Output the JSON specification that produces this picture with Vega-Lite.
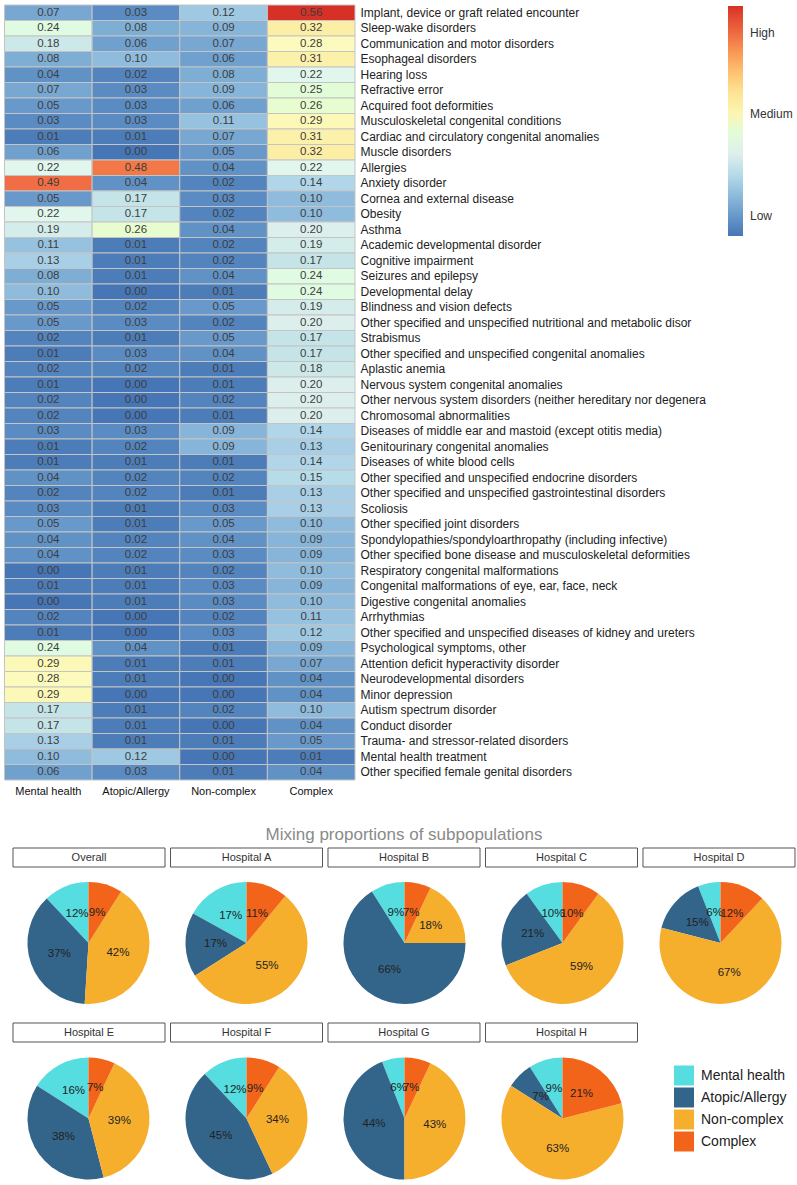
{
  "$schema": "https://vega.github.io/schema/vega-lite/v6.json",
  "padding": {"left": 3.5, "top": 4, "right": 0, "bottom": 0},
  "config": {"font": "Liberation Sans", "view": {"stroke": null},
    "header": {"labels": false, "title": null, "labelPadding": 0, "titlePadding": 0},
    "headerFacet": {"labels": false, "title": null, "labelPadding": 0, "titlePadding": 0}},
  "datasets": {
    "heat": [
      {"d": "Implant, device or graft related encounter", "Mental health": 0.07, "Atopic/Allergy": 0.03, "Non-complex": 0.12, "Complex": 0.56},
      {"d": "Sleep-wake disorders", "Mental health": 0.24, "Atopic/Allergy": 0.08, "Non-complex": 0.09, "Complex": 0.32},
      {"d": "Communication and motor disorders", "Mental health": 0.18, "Atopic/Allergy": 0.06, "Non-complex": 0.07, "Complex": 0.28},
      {"d": "Esophageal disorders", "Mental health": 0.08, "Atopic/Allergy": 0.10, "Non-complex": 0.06, "Complex": 0.31},
      {"d": "Hearing loss", "Mental health": 0.04, "Atopic/Allergy": 0.02, "Non-complex": 0.08, "Complex": 0.22},
      {"d": "Refractive error", "Mental health": 0.07, "Atopic/Allergy": 0.03, "Non-complex": 0.09, "Complex": 0.25},
      {"d": "Acquired foot deformities", "Mental health": 0.05, "Atopic/Allergy": 0.03, "Non-complex": 0.06, "Complex": 0.26},
      {"d": "Musculoskeletal congenital conditions", "Mental health": 0.03, "Atopic/Allergy": 0.03, "Non-complex": 0.11, "Complex": 0.29},
      {"d": "Cardiac and circulatory congenital anomalies", "Mental health": 0.01, "Atopic/Allergy": 0.01, "Non-complex": 0.07, "Complex": 0.31},
      {"d": "Muscle disorders", "Mental health": 0.06, "Atopic/Allergy": 0.00, "Non-complex": 0.05, "Complex": 0.32},
      {"d": "Allergies", "Mental health": 0.22, "Atopic/Allergy": 0.48, "Non-complex": 0.04, "Complex": 0.22},
      {"d": "Anxiety disorder", "Mental health": 0.49, "Atopic/Allergy": 0.04, "Non-complex": 0.02, "Complex": 0.14},
      {"d": "Cornea and external disease", "Mental health": 0.05, "Atopic/Allergy": 0.17, "Non-complex": 0.03, "Complex": 0.10},
      {"d": "Obesity", "Mental health": 0.22, "Atopic/Allergy": 0.17, "Non-complex": 0.02, "Complex": 0.10},
      {"d": "Asthma", "Mental health": 0.19, "Atopic/Allergy": 0.26, "Non-complex": 0.04, "Complex": 0.20},
      {"d": "Academic developmental disorder", "Mental health": 0.11, "Atopic/Allergy": 0.01, "Non-complex": 0.02, "Complex": 0.19},
      {"d": "Cognitive impairment", "Mental health": 0.13, "Atopic/Allergy": 0.01, "Non-complex": 0.02, "Complex": 0.17},
      {"d": "Seizures and epilepsy", "Mental health": 0.08, "Atopic/Allergy": 0.01, "Non-complex": 0.04, "Complex": 0.24},
      {"d": "Developmental delay", "Mental health": 0.10, "Atopic/Allergy": 0.00, "Non-complex": 0.01, "Complex": 0.24},
      {"d": "Blindness and vision defects", "Mental health": 0.05, "Atopic/Allergy": 0.02, "Non-complex": 0.05, "Complex": 0.19},
      {"d": "Other specified and unspecified nutritional and metabolic disor", "Mental health": 0.05, "Atopic/Allergy": 0.03, "Non-complex": 0.02, "Complex": 0.20},
      {"d": "Strabismus", "Mental health": 0.02, "Atopic/Allergy": 0.01, "Non-complex": 0.05, "Complex": 0.17},
      {"d": "Other specified and unspecified congenital anomalies", "Mental health": 0.01, "Atopic/Allergy": 0.03, "Non-complex": 0.04, "Complex": 0.17},
      {"d": "Aplastic anemia", "Mental health": 0.02, "Atopic/Allergy": 0.02, "Non-complex": 0.01, "Complex": 0.18},
      {"d": "Nervous system congenital anomalies", "Mental health": 0.01, "Atopic/Allergy": 0.00, "Non-complex": 0.01, "Complex": 0.20},
      {"d": "Other nervous system disorders (neither hereditary nor degenera", "Mental health": 0.02, "Atopic/Allergy": 0.00, "Non-complex": 0.02, "Complex": 0.20},
      {"d": "Chromosomal abnormalities", "Mental health": 0.02, "Atopic/Allergy": 0.00, "Non-complex": 0.01, "Complex": 0.20},
      {"d": "Diseases of middle ear and mastoid (except otitis media)", "Mental health": 0.03, "Atopic/Allergy": 0.03, "Non-complex": 0.09, "Complex": 0.14},
      {"d": "Genitourinary congenital anomalies", "Mental health": 0.01, "Atopic/Allergy": 0.02, "Non-complex": 0.09, "Complex": 0.13},
      {"d": "Diseases of white blood cells", "Mental health": 0.01, "Atopic/Allergy": 0.01, "Non-complex": 0.01, "Complex": 0.14},
      {"d": "Other specified and unspecified endocrine disorders", "Mental health": 0.04, "Atopic/Allergy": 0.02, "Non-complex": 0.02, "Complex": 0.15},
      {"d": "Other specified and unspecified gastrointestinal disorders", "Mental health": 0.02, "Atopic/Allergy": 0.02, "Non-complex": 0.01, "Complex": 0.13},
      {"d": "Scoliosis", "Mental health": 0.03, "Atopic/Allergy": 0.01, "Non-complex": 0.03, "Complex": 0.13},
      {"d": "Other specified joint disorders", "Mental health": 0.05, "Atopic/Allergy": 0.01, "Non-complex": 0.05, "Complex": 0.10},
      {"d": "Spondylopathies/spondyloarthropathy (including infective)", "Mental health": 0.04, "Atopic/Allergy": 0.02, "Non-complex": 0.04, "Complex": 0.09},
      {"d": "Other specified bone disease and musculoskeletal deformities", "Mental health": 0.04, "Atopic/Allergy": 0.02, "Non-complex": 0.03, "Complex": 0.09},
      {"d": "Respiratory congenital malformations", "Mental health": 0.00, "Atopic/Allergy": 0.01, "Non-complex": 0.02, "Complex": 0.10},
      {"d": "Congenital malformations of eye, ear, face, neck", "Mental health": 0.01, "Atopic/Allergy": 0.01, "Non-complex": 0.03, "Complex": 0.09},
      {"d": "Digestive congenital anomalies", "Mental health": 0.00, "Atopic/Allergy": 0.01, "Non-complex": 0.03, "Complex": 0.10},
      {"d": "Arrhythmias", "Mental health": 0.02, "Atopic/Allergy": 0.00, "Non-complex": 0.02, "Complex": 0.11},
      {"d": "Other specified and unspecified diseases of kidney and ureters", "Mental health": 0.01, "Atopic/Allergy": 0.00, "Non-complex": 0.03, "Complex": 0.12},
      {"d": "Psychological symptoms, other", "Mental health": 0.24, "Atopic/Allergy": 0.04, "Non-complex": 0.01, "Complex": 0.09},
      {"d": "Attention deficit hyperactivity disorder", "Mental health": 0.29, "Atopic/Allergy": 0.01, "Non-complex": 0.01, "Complex": 0.07},
      {"d": "Neurodevelopmental disorders", "Mental health": 0.28, "Atopic/Allergy": 0.01, "Non-complex": 0.00, "Complex": 0.04},
      {"d": "Minor depression", "Mental health": 0.29, "Atopic/Allergy": 0.00, "Non-complex": 0.00, "Complex": 0.04},
      {"d": "Autism spectrum disorder", "Mental health": 0.17, "Atopic/Allergy": 0.01, "Non-complex": 0.02, "Complex": 0.10},
      {"d": "Conduct disorder", "Mental health": 0.17, "Atopic/Allergy": 0.01, "Non-complex": 0.00, "Complex": 0.04},
      {"d": "Trauma- and stressor-related disorders", "Mental health": 0.13, "Atopic/Allergy": 0.01, "Non-complex": 0.01, "Complex": 0.05},
      {"d": "Mental health treatment", "Mental health": 0.10, "Atopic/Allergy": 0.12, "Non-complex": 0.00, "Complex": 0.01},
      {"d": "Other specified female genital disorders", "Mental health": 0.06, "Atopic/Allergy": 0.03, "Non-complex": 0.01, "Complex": 0.04}
    ],
    "p1": [{"panel": "Overall"}, {"panel": "Hospital A"}, {"panel": "Hospital B"}, {"panel": "Hospital C"}, {"panel": "Hospital D"}],
    "p2": [{"panel": "Hospital E"}, {"panel": "Hospital F"}, {"panel": "Hospital G"}, {"panel": "Hospital H"}],
    "pie": [
      {"panel": "Overall", "grp": "Mental health", "k": 1, "p": 0.12},
      {"panel": "Overall", "grp": "Atopic/Allergy", "k": 2, "p": 0.37},
      {"panel": "Overall", "grp": "Non-complex", "k": 3, "p": 0.42},
      {"panel": "Overall", "grp": "Complex", "k": 4, "p": 0.09},
      {"panel": "Hospital A", "grp": "Mental health", "k": 1, "p": 0.17},
      {"panel": "Hospital A", "grp": "Atopic/Allergy", "k": 2, "p": 0.17},
      {"panel": "Hospital A", "grp": "Non-complex", "k": 3, "p": 0.55},
      {"panel": "Hospital A", "grp": "Complex", "k": 4, "p": 0.11},
      {"panel": "Hospital B", "grp": "Mental health", "k": 1, "p": 0.09},
      {"panel": "Hospital B", "grp": "Atopic/Allergy", "k": 2, "p": 0.66},
      {"panel": "Hospital B", "grp": "Non-complex", "k": 3, "p": 0.18},
      {"panel": "Hospital B", "grp": "Complex", "k": 4, "p": 0.07},
      {"panel": "Hospital C", "grp": "Mental health", "k": 1, "p": 0.10},
      {"panel": "Hospital C", "grp": "Atopic/Allergy", "k": 2, "p": 0.21},
      {"panel": "Hospital C", "grp": "Non-complex", "k": 3, "p": 0.59},
      {"panel": "Hospital C", "grp": "Complex", "k": 4, "p": 0.10},
      {"panel": "Hospital D", "grp": "Mental health", "k": 1, "p": 0.06},
      {"panel": "Hospital D", "grp": "Atopic/Allergy", "k": 2, "p": 0.15},
      {"panel": "Hospital D", "grp": "Non-complex", "k": 3, "p": 0.67},
      {"panel": "Hospital D", "grp": "Complex", "k": 4, "p": 0.12},
      {"panel": "Hospital E", "grp": "Mental health", "k": 1, "p": 0.16},
      {"panel": "Hospital E", "grp": "Atopic/Allergy", "k": 2, "p": 0.38},
      {"panel": "Hospital E", "grp": "Non-complex", "k": 3, "p": 0.39},
      {"panel": "Hospital E", "grp": "Complex", "k": 4, "p": 0.07},
      {"panel": "Hospital F", "grp": "Mental health", "k": 1, "p": 0.12},
      {"panel": "Hospital F", "grp": "Atopic/Allergy", "k": 2, "p": 0.45},
      {"panel": "Hospital F", "grp": "Non-complex", "k": 3, "p": 0.34},
      {"panel": "Hospital F", "grp": "Complex", "k": 4, "p": 0.09},
      {"panel": "Hospital G", "grp": "Mental health", "k": 1, "p": 0.06},
      {"panel": "Hospital G", "grp": "Atopic/Allergy", "k": 2, "p": 0.44},
      {"panel": "Hospital G", "grp": "Non-complex", "k": 3, "p": 0.43},
      {"panel": "Hospital G", "grp": "Complex", "k": 4, "p": 0.07},
      {"panel": "Hospital H", "grp": "Mental health", "k": 1, "p": 0.09},
      {"panel": "Hospital H", "grp": "Atopic/Allergy", "k": 2, "p": 0.07},
      {"panel": "Hospital H", "grp": "Non-complex", "k": 3, "p": 0.63},
      {"panel": "Hospital H", "grp": "Complex", "k": 4, "p": 0.21}
    ]
  },
  "resolve": {"scale": {"color": "independent"}, "legend": {"color": "independent"}},
  "spacing": 29,
  "vconcat": [
    {
      "width": 350.5,
      "height": 775,
      "data": {"name": "heat"},
      "transform": [{"fold": ["Mental health", "Atopic/Allergy", "Non-complex", "Complex"], "as": ["g", "v"]}],
      "encoding": {
        "x": {"field": "g", "type": "nominal", "sort": ["Mental health", "Atopic/Allergy", "Non-complex", "Complex"],
          "axis": {"orient": "bottom", "title": null, "labelAngle": 0, "ticks": false, "domain": false, "labelPadding": 5, "labelFontSize": 11, "labelColor": "#111"}},
        "y": {"field": "d", "type": "nominal", "sort": null,
          "axis": {"orient": "right", "title": null, "ticks": false, "domain": false, "labelPadding": 5, "labelFontSize": 12, "labelColor": "#222", "labelLimit": 500}}
      },
      "layer": [
        {
          "mark": {"type": "rect", "stroke": "#c4c4c4", "strokeWidth": 1},
          "encoding": {
            "color": {"field": "v", "type": "quantitative",
              "scale": {"domain": [0, 0.07, 0.14, 0.21, 0.28, 0.35, 0.42, 0.49, 0.56],
                "range": ["#4676b5", "#78a7d2", "#b1d6ea", "#e6f3ef", "#fcfbbd", "#fee394", "#fdb266", "#f16d45", "#d73027"]},
              "legend": {"orient": "none", "legendX": 723.5, "legendY": 1, "direction": "vertical", "title": null,
                "gradientLength": 230, "gradientThickness": 15, "gradientStrokeWidth": 0,
                "values": [0.049, 0.297, 0.494],
                "labelExpr": "datum.value < 0.1 ? 'Low' : (datum.value < 0.4 ? 'Medium' : 'High')",
                "labelFontSize": 12, "labelColor": "#333", "labelOffset": 7}}
          }
        },
        {
          "mark": {"type": "text", "fontSize": 11.5, "color": "#3d3d3d"},
          "encoding": {"text": {"field": "v", "type": "quantitative", "format": ".2f"}}
        }
      ]
    },
    {
      "title": {"text": "Mixing proportions of subpopulations", "fontSize": 17, "color": "#8a8a8a", "fontWeight": "normal", "anchor": "middle", "offset": 4},
      "spacing": 4,
      "resolve": {"scale": {"color": "independent", "x": "independent", "y": "independent"}, "legend": {"color": "independent"}},
      "vconcat": [
        {
          "data": {"name": "p1"},
          "width": 799,
          "height": 19,
          "encoding": {"x": {"field": "panel", "type": "nominal", "sort": null, "axis": null, "scale": {"paddingInner": 0.0349, "paddingOuter": 0.054}}},
          "layer": [
            {"mark": {"type": "rect", "fill": "white", "stroke": "#555", "strokeWidth": 1}},
            {"mark": {"type": "text", "fontSize": 11, "color": "#333"}, "encoding": {"text": {"field": "panel"}}}
          ]
        },
        {
          "data": {"name": "pie"},
          "transform": [{"filter": {"field": "panel", "oneOf": ["Overall", "Hospital A", "Hospital B", "Hospital C", "Hospital D"]}}],
          "facet": {"field": "panel", "type": "nominal", "sort": ["Overall", "Hospital A", "Hospital B", "Hospital C", "Hospital D"], "title": null, "header": {"labels": false, "labelExpr": "''", "labelPadding": 0, "title": null}},
          "columns": 5,
          "spacing": 0,
          "resolve": {"scale": {"x": "independent", "y": "independent"}},
          "spec": {
            "width": 157.5,
            "height": 135.5,
            "encoding": {
              "x": {"field": "panel", "type": "nominal", "axis": null, "scale": {"type": "point", "padding": 0, "align": 0.5333}},
              "y": {"field": "panel", "type": "nominal", "axis": null, "scale": {"type": "point", "padding": 0, "align": 0.4502}},
              "theta": {"field": "p", "type": "quantitative", "stack": true, "scale": {"domain": [0, 1]}},
              "order": {"field": "k", "sort": "descending"}
            },
            "layer": [
              {
                "mark": {"type": "arc", "outerRadius": 61},
                "encoding": {
                  "color": {"field": "grp", "type": "nominal", "legend": null,
                    "scale": {"domain": ["Mental health", "Atopic/Allergy", "Non-complex", "Complex"], "range": ["#55DDE0", "#33658A", "#F6AE2D", "#F26419"]}}
                }
              },
              {
                "mark": {"type": "text", "radius": 31, "fontSize": 11.5, "color": "#222"},
                "encoding": {
                  "text": {"field": "p", "type": "quantitative", "format": ".0%"}
                }
              }
            ]
          }
        },
        {
          "data": {"name": "p2"},
          "width": 641.5,
          "height": 19,
          "encoding": {"x": {"field": "panel", "type": "nominal", "sort": null, "axis": null, "scale": {"paddingInner": 0.0349, "paddingOuter": 0.054}}},
          "layer": [
            {"mark": {"type": "rect", "fill": "white", "stroke": "#555", "strokeWidth": 1}},
            {"mark": {"type": "text", "fontSize": 11, "color": "#333"}, "encoding": {"text": {"field": "panel"}}}
          ]
        },
        {
          "data": {"name": "pie"},
          "transform": [{"filter": {"field": "panel", "oneOf": ["Hospital E", "Hospital F", "Hospital G", "Hospital H"]}}],
          "facet": {"field": "panel", "type": "nominal", "sort": ["Hospital E", "Hospital F", "Hospital G", "Hospital H"], "title": null, "header": {"labels": false, "labelExpr": "''", "labelPadding": 0, "title": null}},
          "columns": 5,
          "spacing": 0,
          "resolve": {"scale": {"x": "independent", "y": "independent"}},
          "spec": {
            "width": 157.5,
            "height": 125,
            "encoding": {
              "x": {"field": "panel", "type": "nominal", "axis": null, "scale": {"type": "point", "padding": 0, "align": 0.5333}},
              "y": {"field": "panel", "type": "nominal", "axis": null, "scale": {"type": "point", "padding": 0, "align": 0.492}},
              "theta": {"field": "p", "type": "quantitative", "stack": true, "scale": {"domain": [0, 1]}},
              "order": {"field": "k", "sort": "descending"}
            },
            "layer": [
              {
                "mark": {"type": "arc", "outerRadius": 61},
                "encoding": {
                  "color": {"field": "grp", "type": "nominal",
                    "scale": {"domain": ["Mental health", "Atopic/Allergy", "Non-complex", "Complex"], "range": ["#55DDE0", "#33658A", "#F6AE2D", "#F26419"]},
                    "legend": {"orient": "none", "legendX": 669.5, "legendY": 8.5, "title": null, "symbolType": "square", "symbolSize": 400,
                      "symbolStrokeWidth": 0, "labelFontSize": 14, "labelColor": "#222", "rowPadding": 2, "labelOffset": 7}}
                }
              },
              {
                "mark": {"type": "text", "radius": 31, "fontSize": 11.5, "color": "#222"},
                "encoding": {
                  "text": {"field": "p", "type": "quantitative", "format": ".0%"}
                }
              }
            ]
          }
        }
      ]
    }
  ]
}
